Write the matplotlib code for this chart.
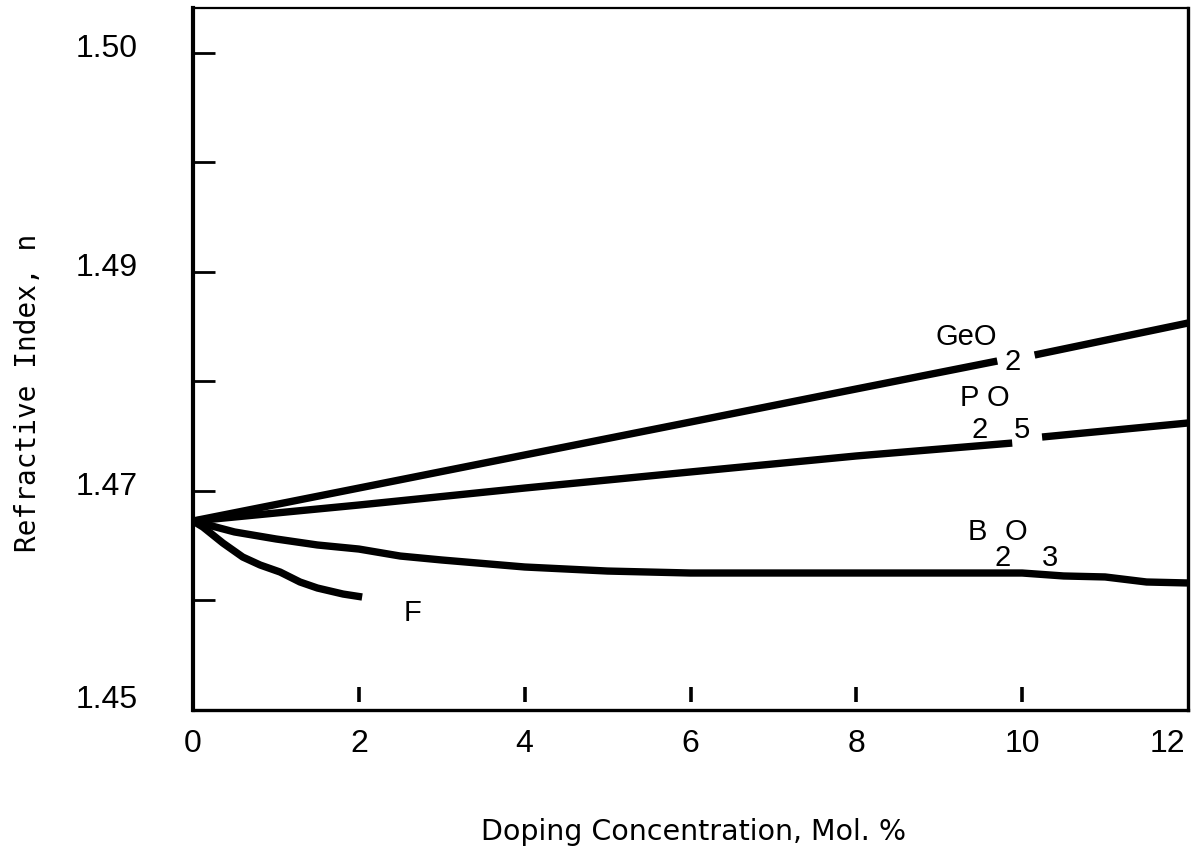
import matplotlib
matplotlib.use("Agg")
import matplotlib.pyplot as plt
import matplotlib.transforms as mtransforms
import numpy as np

# ---------------- data ----------------
geo2_x = [0, 2, 4, 6, 8, 9.7]
geo2_y = [1.46726, 1.47027, 1.47329, 1.47630, 1.47932, 1.48187]
geo2_x2 = [10.15, 12]
geo2_y2 = [1.48242, 1.48534]

p2o5_x = [0, 2, 4, 6, 8, 9.88]
p2o5_y = [1.46726, 1.46872, 1.47027, 1.47174, 1.47320, 1.47438]
p2o5_x2 = [10.24, 12]
p2o5_y2 = [1.47493, 1.47621]

b2o3_x = [0, 0.5, 1, 1.5, 2, 2.5, 3, 4, 5, 6, 8, 10, 10.5, 11, 11.5, 12]
b2o3_y = [1.46726, 1.46626, 1.46562, 1.46507, 1.46470, 1.46406, 1.46370,
          1.46306, 1.46269, 1.46251, 1.46251, 1.46251, 1.46224, 1.46215,
          1.46169, 1.46160]

f_x = [0, 0.12, 0.36, 0.60, 0.81, 1.05, 1.29, 1.50, 1.81, 2.04]
f_y = [1.46726, 1.46671, 1.46525, 1.46397, 1.46324, 1.46260, 1.46169,
       1.46114, 1.46059, 1.46032]

x_ticks = [0, 2, 4, 6, 8, 10, 12]
x_ticklabels = ["0", "2", "4", "6", "8", "10", "12"]
y_ticks = [1.45, 1.46, 1.47, 1.48, 1.49, 1.50, 1.51]
y_ticklabels = ["1.45", "", "1.47", "", "1.49", "", "1.50"]

# ---------------- figure ----------------
fig = plt.figure(figsize=(11.92, 8.52), dpi=100)
ax = fig.add_axes([193 / 1192, 1 - 710 / 852, (1188 - 193) / 1192, (710 - 8) / 852])

lw = 5.3
for xs, ys in [(geo2_x, geo2_y), (geo2_x2, geo2_y2), (p2o5_x, p2o5_y),
               (p2o5_x2, p2o5_y2), (b2o3_x, b2o3_y), (f_x, f_y)]:
    ax.plot(xs, ys, color="black", lw=lw, solid_capstyle="butt",
            solid_joinstyle="round", clip_on=False)

ax.set_xlim(0, 12)
ax.set_ylim(1.45, 1.45 + (710 - 8) / 10950)

# spines
for side, w in [("left", 3.0), ("bottom", 2.4), ("right", 2.4), ("top", 1.6)]:
    ax.spines[side].set_linewidth(w)
    ax.spines[side].set_color("black")

# y ticks
ax.set_yticks(y_ticks)
ax.set_yticklabels(y_ticklabels)
ax.tick_params(axis="y", direction="in", length=16, width=2.0, pad=40,
               labelsize=23)
for lab in ax.get_yticklabels():
    lab.set_fontfamily("Liberation Sans")
    lab.set_transform(lab.get_transform() +
                      mtransforms.ScaledTranslation(0, 7 / 100, fig.dpi_scale_trans))
for lab in ax.get_yticklabels()[:1]:
    lab.set_transform(lab.get_transform() +
                      mtransforms.ScaledTranslation(0, 6 / 100, fig.dpi_scale_trans))

# x ticks: floating short marks above the bottom spine
ax.set_xticks(x_ticks)
ax.set_xticklabels(x_ticklabels)
ax.tick_params(axis="x", length=0, pad=14, labelsize=23)
blend = mtransforms.blended_transform_factory(ax.transData, ax.transAxes)
ax.vlines(x_ticks[1:-1], 0.0114, 0.033, transform=blend, color="black", lw=2.6)
xl = ax.get_xticklabels()
for lab in xl:
    lab.set_fontfamily("Liberation Sans")
xl[-1].set_transform(xl[-1].get_transform() +
                     mtransforms.ScaledTranslation(-21 / 100, 0, fig.dpi_scale_trans))

# axis labels
fig.text(694 / 1192, 1 - 832 / 852, "Doping Concentration, Mol. %",
         ha="center", va="center", fontsize=20.5, family="DejaVu Sans")
fig.text(28 / 1192, 1 - 393 / 852, "Refractive Index, n", rotation=90,
         ha="center", va="center", fontsize=20, family="DejaVu Sans Mono")

# curve labels
kw = dict(fontsize=21, family="Liberation Sans", ha="center", va="center")
ax.text(9.32, 1.48406, "GeO", **kw)
ax.text(9.89, 1.48178, "2", **kw)
ax.text(9.55, 1.47849, "P O", **kw)
ax.text(9.49, 1.47557, "2", **kw)
ax.text(10.0, 1.47557, "5", **kw)
ax.text(9.46, 1.46626, "B", **kw)
ax.text(9.92, 1.46626, "O", **kw)
ax.text(9.77, 1.46388, "2", **kw)
ax.text(10.34, 1.46388, "3", **kw)
ax.text(2.65, 1.45886, "F", **kw)

fig.savefig("out.png", dpi=100, facecolor="white")
